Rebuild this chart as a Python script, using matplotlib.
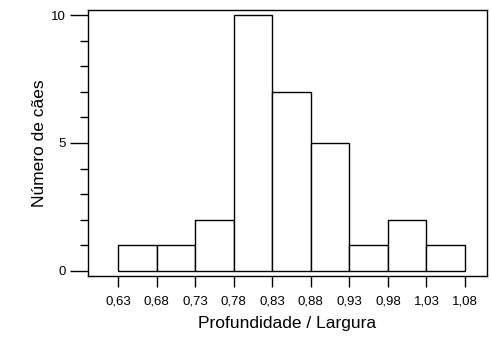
import matplotlib
matplotlib.use("Agg")
import matplotlib.pyplot as plt
import numpy as np

# histogram bins (left edges) and counts
bin_edges = [0.63, 0.68, 0.73, 0.78, 0.83, 0.88, 0.93, 0.98, 1.03, 1.08]
counts = [1, 1, 2, 10, 7, 5, 1, 2, 1]
tick_labels = ["0,63", "0,68", "0,73", "0,78", "0,83", "0,88", "0,93", "0,98", "1,03", "1,08"]

plt.rcParams['font.family'] = ['Liberation Sans', 'DejaVu Sans']

fig = plt.figure(figsize=(4.91, 3.38), dpi=100)
ax = fig.add_axes([88 / 491, 1 - 276 / 338, (487 - 88) / 491, (276 - 10) / 338])

widths = np.diff(bin_edges)
ax.bar(bin_edges[:-1], counts, width=widths, align='edge',
       color='white', edgecolor='black', linewidth=1.0)

ax.set_xlim(0.591, 1.1085)
ax.set_ylim(-0.2, 10.2)

ax.set_xticks(bin_edges)
ax.set_xticklabels(tick_labels, fontsize=9.5)
ax.set_yticks([0, 5, 10])
ax.set_yticks(range(0, 11), minor=True)
ax.tick_params(axis='y', which='major', length=13, width=1, labelsize=9.5, pad=3)
ax.tick_params(axis='y', which='minor', length=6, width=1)
ax.tick_params(axis='x', which='major', length=8, width=1, pad=6)

for s in ax.spines.values():
    s.set_linewidth(1.0)

ax.set_xlabel("Profundidade / Largura", fontsize=12.5, labelpad=6)
ax.set_ylabel("Número de cães", fontsize=12.5, labelpad=3)

fig.savefig("out.png", dpi=100)
